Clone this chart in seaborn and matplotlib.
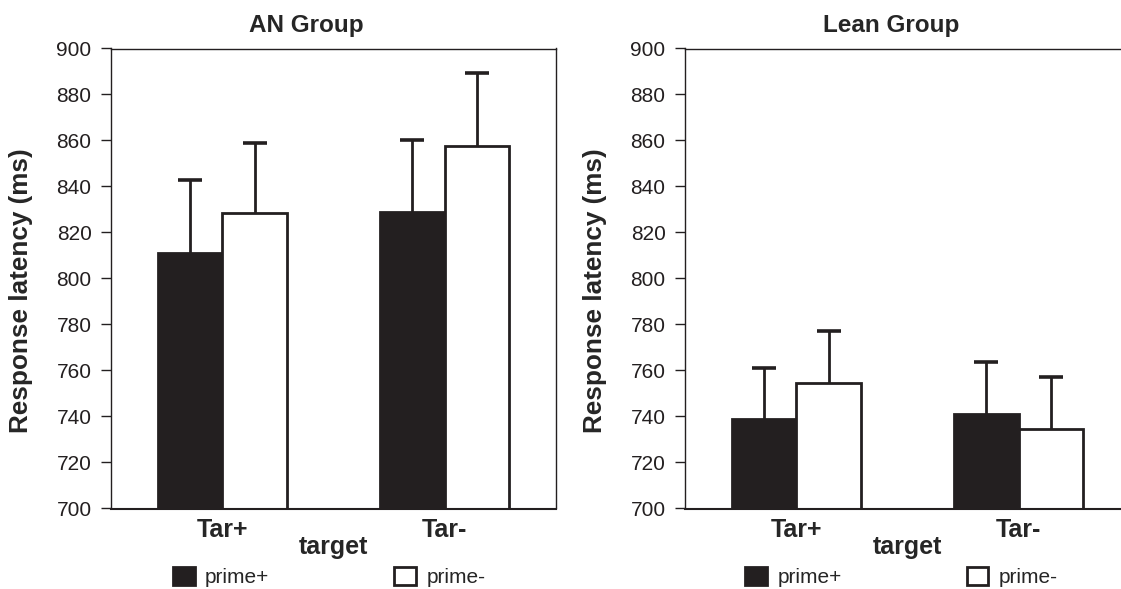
import pandas as pd
import matplotlib.pyplot as plt
import seaborn as sns

sns.set_theme(style='white')
plt.rcParams['font.family'] = ['Liberation Sans', 'DejaVu Sans']

# 数据
targets = ['Tar+', 'Tar-']
primes = ['prime+', 'prime-']
an_prime_plus = [811.3, 828.7]
an_prime_minus = [828.4, 857.4]
an_err_plus = [31.6, 31.6]
an_err_minus = [30.4, 32.0]
lean_prime_plus = [738.7, 741.2]
lean_prime_minus = [754.5, 734.5]
lean_err_plus = [22.3, 22.4]
lean_err_minus = [22.5, 22.6]
y_ticks = list(range(700, 901, 20))

ink = '#231f20'


def make_df(plus, minus):
    rows = []
    for t, v in zip(targets, plus):
        rows.append({'target': t, 'prime': 'prime+', 'latency': v})
    for t, v in zip(targets, minus):
        rows.append({'target': t, 'prime': 'prime-', 'latency': v})
    return pd.DataFrame(rows)


fig = plt.figure(figsize=(11.21, 5.89), dpi=100)
W, H = 1121, 589
ax_l = fig.add_axes([111 / W, 1 - 508.5 / H, 445 / W, 460 / H])
ax_r = fig.add_axes([685 / W, 1 - 508.5 / H, 445 / W, 460 / H])

panels = [
    (ax_l, 'AN Group', an_prime_plus, an_prime_minus, an_err_plus, an_err_minus, 0.44, 0.139),
    (ax_r, 'Lean Group', lean_prime_plus, lean_prime_minus, lean_err_plus, lean_err_minus, 0.463, 0.135),
]

for ax, title, plus, minus, eplus, eminus, tx, lx in panels:
    df = make_df(plus, minus)
    sns.barplot(data=df, x='target', y='latency', hue='prime', order=targets,
                hue_order=primes, palette={'prime+': ink, 'prime-': 'white'},
                edgecolor=ink, linewidth=2.0, width=0.58, errorbar=None,
                saturation=1, ax=ax)

    # 只画向上的误差线
    for container, errs in zip(ax.containers, [eplus, eminus]):
        for bar, e in zip(container, errs):
            xc = bar.get_x() + bar.get_width() / 2
            _, caps, _ = ax.errorbar(xc, bar.get_height(), yerr=[[0], [e]], color=ink,
                                     elinewidth=2.0, capsize=8.5, capthick=2.6, zorder=5)
            caps[0].set_visible(False)

    ax.set_ylim(700, 900)
    ax.set_xlim(-0.5, 1.5)
    ax.set_yticks(y_ticks)
    ax.tick_params(axis='y', direction='out', length=7, width=1, pad=7,
                   labelsize=15, colors=ink, left=True)
    ax.tick_params(axis='x', length=0, pad=7, labelsize=18)
    for lab in ax.get_xticklabels():
        lab.set_fontweight('bold')
    for sp in ax.spines.values():
        sp.set_color(ink)
        sp.set_linewidth(1.0)
    ax.spines['bottom'].set_linewidth(1.5)

    ax.set_title(title, fontsize=17.5, fontweight='bold', x=tx, pad=12)
    ax.set_ylabel('Response latency (ms)', fontsize=18.8, fontweight='bold')
    ax.yaxis.set_label_coords(-0.176, 0.473)
    ax.set_xlabel('target', fontsize=18, fontweight='bold', labelpad=-5)

    ax.legend(ncol=2, loc='center left', bbox_to_anchor=(lx, -0.149),
              frameon=False, fontsize=15, handlelength=1.05, handleheight=1.0,
              handletextpad=0.5, columnspacing=6.0, borderpad=0, borderaxespad=0)

fig.savefig('out.png', dpi=100)
